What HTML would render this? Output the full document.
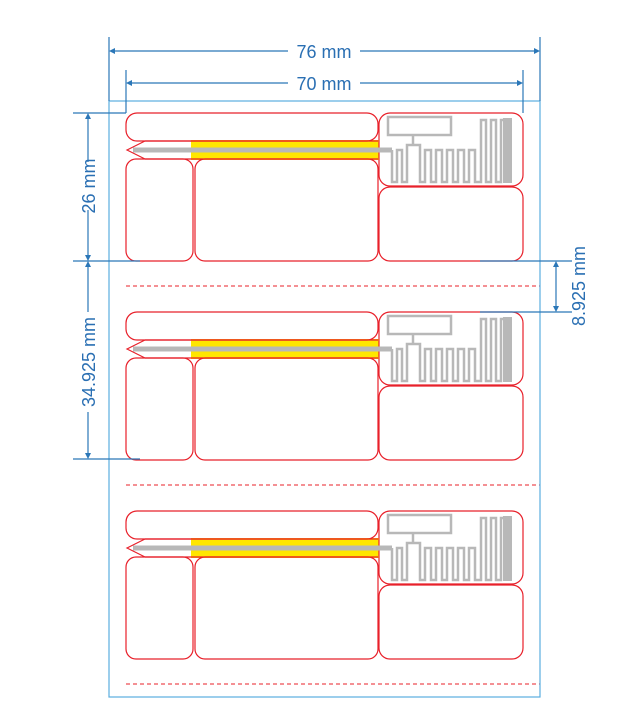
<!DOCTYPE html>
<html><head><meta charset="utf-8"><style>
html,body{margin:0;padding:0;background:#fff;}
svg{display:block;}
text{font-family:"Liberation Sans",sans-serif;font-size:18px;fill:#2a6fb3;}
</style></head><body>
<svg width="622" height="715" viewBox="0 0 622 715" xmlns="http://www.w3.org/2000/svg">
<defs>
<g id="lab">
  <rect x="191" y="27" width="188" height="20" fill="#ffe600"/>
  <g fill="none" stroke="#e8202a" stroke-width="1.2">
    <rect x="126" y="0" width="252" height="28" rx="11"/>
    <path d="M145,28 H378 M145,46 H378 M145,28 L127,37 L145,46"/>
    <rect x="126" y="46" width="67" height="102" rx="10"/>
    <rect x="195" y="46" width="183" height="102" rx="10"/>
    <rect x="379" y="0" width="144" height="73" rx="11"/>
    <rect x="379" y="74" width="144" height="74" rx="11"/>
  </g>
  <path d="M133,37 H392" stroke="#b8b8b8" stroke-width="5" fill="none"/>
  <g fill="none" stroke="#b8b8b8" stroke-width="2.5">
    <rect x="388" y="4" width="63" height="18"/>
    <path d="M392,37 V69 H397 V37 H402 V69 H407 V32 H420 V69 H425 V37 H431 V69 H436 V37 H442 V69 H447 V37 H453 V69 H458 V37 H464 V69 H469 V37 H475 V69 H481 V7 H486 V69 H491 V7 H496 V69 H501 V7 H504"/>
    <path d="M413,22 V32"/>
  </g>
  <rect x="503" y="5" width="9" height="65" fill="#b8b8b8"/>
  <path d="M126,173 H540" stroke="#e8202a" stroke-width="1" stroke-dasharray="4,3"/>
</g>
</defs>
<use href="#lab" transform="translate(0,113)"/>
<use href="#lab" transform="translate(0,312)"/>
<use href="#lab" transform="translate(0,511)"/>
<rect x="109" y="101" width="431" height="596" fill="none" stroke="#5aaee0" stroke-width="1.2"/>
<g stroke="#2b77b8" stroke-width="1.2" fill="none">
  <path d="M109,37 V101 M540,37 V101 M126,70 V113 M523,70 V113"/>
  <path d="M111,51 H288 M360,51 H538"/>
  <path d="M128,83 H288 M360,83 H521"/>
  <path d="M73,113 H126 M73,261 H140 M73,459 H140"/>
  <path d="M88,115 V162 M88,210 V259 M88,263 V312 M88,412 V457"/>
  <path d="M480,261 H572 M480,312 H572 M556,263 V310"/>
</g>
<g fill="#2b77b8">
  <path d="M109,51 l6,-3 v6z M540,51 l-6,-3 v6z M126,83 l6,-3 v6z M523,83 l-6,-3 v6z"/>
  <path d="M88,113 l-3,6 h6z M88,261 l-3,-6 h6z M88,261 l-3,6 h6z M88,459 l-3,-6 h6z"/>
  <path d="M556,261 l-3,6 h6z M556,312 l-3,-6 h6z"/>
</g>
<text x="324" y="58" text-anchor="middle">76 mm</text>
<text x="324" y="90" text-anchor="middle">70 mm</text>
<text transform="translate(95,186) rotate(-90)" text-anchor="middle">26 mm</text>
<text transform="translate(95,362) rotate(-90)" text-anchor="middle">34.925 mm</text>
<text transform="translate(585,286) rotate(-90)" text-anchor="middle">8.925 mm</text>
</svg>
</body></html>
